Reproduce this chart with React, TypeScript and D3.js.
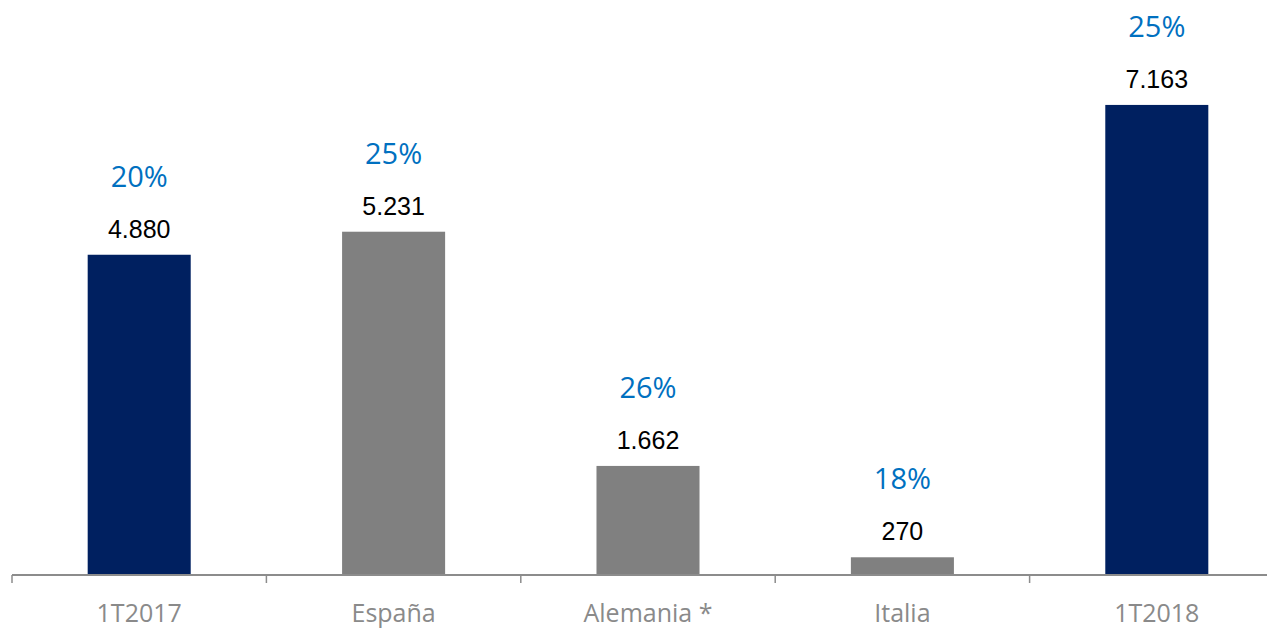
import React from "react";
import * as d3 from "d3";

const categories = ["1T2017", "España", "Alemania *", "Italia", "1T2018"];
const values = [4880, 5231, 1662, 270, 7163];
const valueLabels = ["4.880", "5.231", "1.662", "270", "7.163"];
const percentLabels = ["20%", "25%", "26%", "18%", "25%"];
const barColors = ["#002060", "#808080", "#808080", "#808080", "#002060"];

const W = 1267;
const H = 628;

export default function App() {
  const x = d3.scaleBand<string>().domain(categories).range([12, 1284]).paddingInner(0.595).paddingOuter(0.2975);
  const y = d3.scaleLinear().domain([0, 8000]).range([575, 50]);
  const band = (1284 - 12) / categories.length;
  const ticks = d3.range(categories.length + 1).map((i) => 12 + i * band);
  return (
    <svg width={W} height={H} style={{ position: "absolute", left: 0, top: 0, background: "#fff" }}>
      {categories.map((c, i) => {
        const bx = x(c)!;
        const cx = bx + x.bandwidth() / 2;
        const top = y(values[i]);
        return (
          <g key={c}>
            <rect x={bx} y={top} width={x.bandwidth()} height={y(0) - top} fill={barColors[i]} />
            <text x={cx} y={top - 17} textAnchor="middle" fontFamily="'Liberation Sans', Arial, sans-serif" fontSize={25} fill="#000">
              {valueLabels[i]}
            </text>
            <text x={cx} y={top - 68} textAnchor="middle" fontFamily="'Open Sans', sans-serif" fontSize={29} fill="#0070C0">
              {percentLabels[i]}
            </text>
            <text x={cx} y={622} textAnchor="middle" fontFamily="'Open Sans', sans-serif" fontSize={25} fill="#8a8a8a">
              {c}
            </text>
          </g>
        );
      })}
      <line x1={12} x2={1284} y1={y(0)} y2={y(0)} stroke="#8c8c8c" strokeWidth={2} />
      {ticks.map((t, i) => (
        <line key={i} x1={t} x2={t} y1={y(0)} y2={y(0) + 8} stroke="#8c8c8c" strokeWidth={1.5} />
      ))}
    </svg>
  );
}
